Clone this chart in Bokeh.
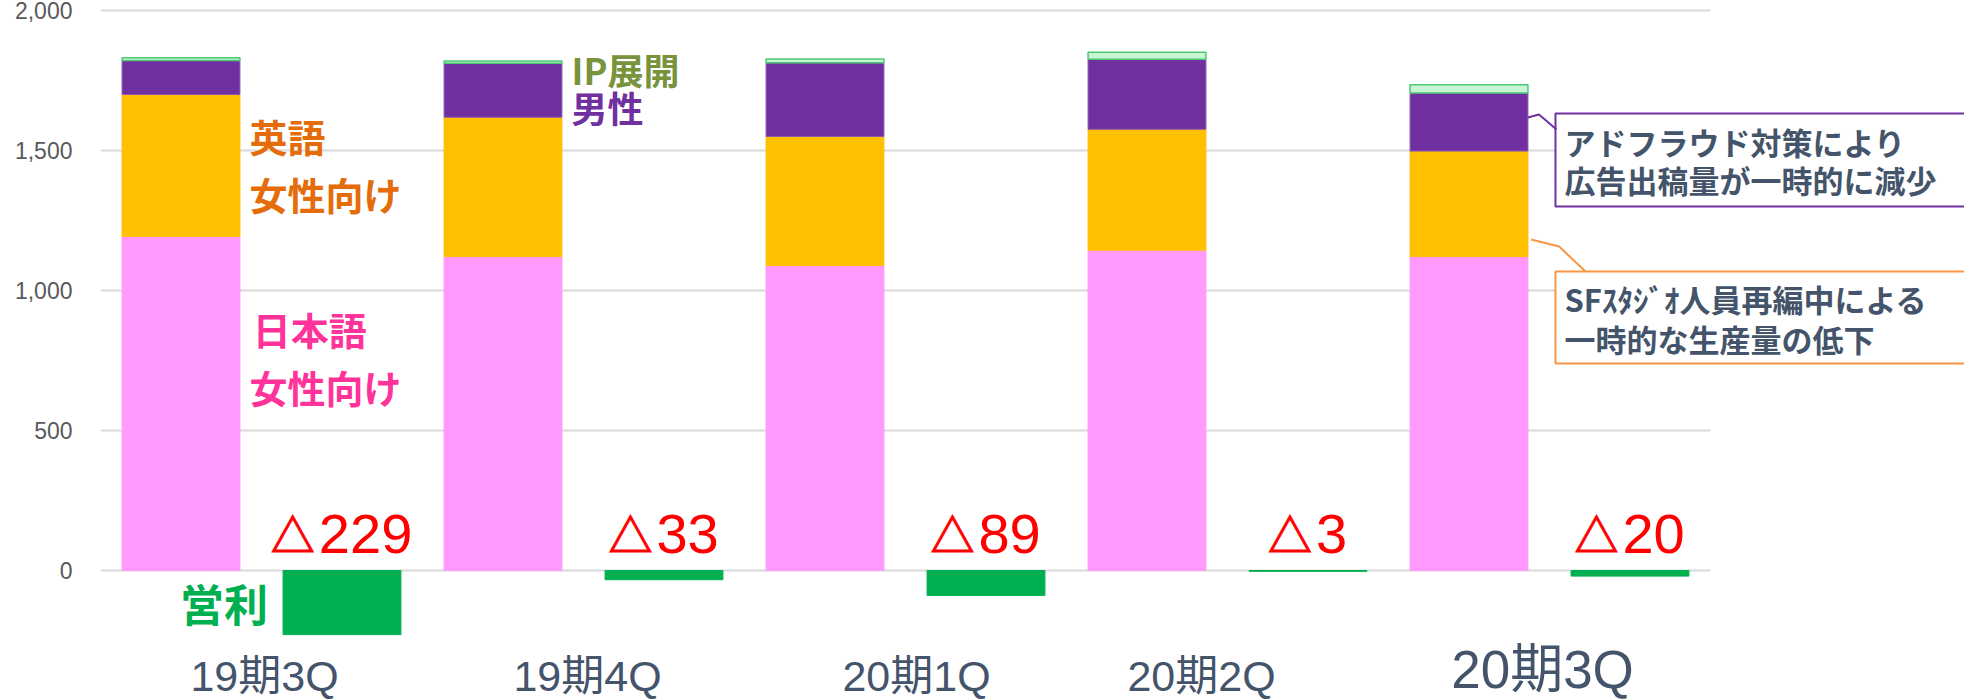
from bokeh.plotting import figure
from bokeh.models import ColumnDataSource, Range1d, FixedTicker, NumeralTickFormatter
from bokeh.core.properties import value
from bokeh.embed import file_html
from bokeh.resources import INLINE

# ---------------- data ----------------
categories = ["19期3Q", "19期4Q", "20期1Q", "20期2Q", "20期3Q"]
jp_female = [1193, 1121, 1089, 1144, 1121]   # 日本語 女性向け
en_female = [507, 498, 461, 432, 377]        # 英語 女性向け
male = [121, 193, 263, 250, 207]             # 男性
ip_dev = [10, 8, 14, 25, 30]                 # IP展開
op_profit = [-229, -33, -89, -3, -20]        # 営利
y_ticks = [0, 500, 1000, 1500, 2000]

# ---------------- layout / style ----------------
W, H = 1964, 699
LEFT = 100
UNIT_PX = 322
K = 0.28                      # px per value unit
Y_TOP = 2000 + 10 / K
Y_BOT = -(H - 570) / K
BAR_W = 0.366
OFF = 0.25

C_PINK, C_YEL, C_PUR, C_IP, C_IP_LINE, C_OP = "#FF99FF", "#FFC000", "#7030A0", "#C8F5D2", "#4CC774", "#00B050"
C_TXT = "#44546A"
CJK = value("Noto Sans CJK JP")
LAT = value("Liberation Sans, Noto Sans CJK JP")

n = len(categories)
idx = list(range(n))
X_END = -0.5 + (W - LEFT) / UNIT_PX

def px2val(py):
    return (570 - py) / K

p = figure(width=W, height=H, output_backend="svg", toolbar_location=None,
           x_range=Range1d(-0.5, X_END), y_range=Range1d(Y_BOT, Y_TOP),
           min_border_left=LEFT, min_border_right=0, min_border_top=0, min_border_bottom=0)
p.outline_line_color = None
p.xaxis.visible = False
p.xgrid.visible = False

ax = p.yaxis[0]
ax.ticker = FixedTicker(ticks=y_ticks)
ax.formatter = NumeralTickFormatter(format="0,0")
ax.axis_line_color = None
ax.major_tick_line_color = None
ax.minor_tick_line_color = None
ax.major_tick_out = 0
ax.major_tick_in = 0
ax.minor_tick_out = 0
ax.minor_tick_in = 0
ax.major_label_standoff = 28
ax.major_label_text_font = "Liberation Sans"
ax.major_label_text_font_size = "23px"
ax.major_label_text_color = "#595959"

g = p.ygrid[0]
g.grid_line_color = "#D9D9D9"
g.grid_line_width = 2
if "cross_bounds" in g.properties():
    g.cross_bounds = (-0.5, n - 0.5)
else:
    g.visible = False
    p.segment(x0=-0.5, x1=n - 0.5, y0=y_ticks, y1=y_ticks, line_color="#D9D9D9",
              line_width=2, level="underlay")

# operating-profit label pieces (triangle + digits), offsets derived from digit count
TRI, GAP, DIG = 46, 5, 31.1
digits = [str(abs(v)) for v in op_profit]
tri_txt = ["△" if v < 0 else "" for v in op_profit]
tot = [TRI + GAP + len(d) * DIG for d in digits]
tri_off = [-t / 2 + TRI / 2 for t in tot]
dig_off = [-t / 2 + TRI + GAP - 2 for t in tot]

src = ColumnDataSource(dict(
    x_sales=[i - OFF for i in idx],
    x_op=[i + OFF for i in idx],
    jp=jp_female, en=en_female, male=male, ip=ip_dev, op=op_profit,
    tri=tri_txt, dig=digits, tri_off=tri_off, dig_off=dig_off,
))

p.vbar_stack(["jp", "en", "male", "ip"], x="x_sales", width=BAR_W, source=src,
             fill_color=[C_PINK, C_YEL, C_PUR, C_IP],
             line_color=[C_PINK, C_YEL, "#8A55B5", C_IP_LINE],
             line_width=[1, 1, 1, 1.5])

p.vbar(x="x_op", top="op", bottom=0, width=BAR_W, source=src,
       fill_color=C_OP, line_color=C_OP)

# operating profit labels  (△ + value)
tri_r = p.text(x="x_op", y=px2val(532), text="tri", source=src, x_offset="tri_off",
               text_align="center", text_baseline="middle", text_color="#FF0000",
               text_font=CJK, text_font_size="44px", text_font_style="bold")
if "text_outline_color" in tri_r.glyph.properties():
    tri_r.glyph.text_outline_color = "#FF0000"
p.text(x="x_op", y=px2val(533), text="dig", source=src, x_offset="dig_off", text_align="left",
       text_baseline="middle", text_color="#FF0000", text_font=LAT,
       text_font_size="56px")

# category labels
p.text(x=idx, y=[px2val(675)] * 4 + [px2val(669)], text=categories, text_align="center",
       text_baseline="middle", x_offset=[3, 4, 11, -26, -7],
       text_font_size=["43px", "43px", "43px", "43px", "53px"],
       text_color=C_TXT, text_font=LAT)

# series labels
edge0 = 0 - OFF + BAR_W / 2 + 0.03
edge1 = 1 - OFF + BAR_W / 2 + 0.03
series_labels = [
    ("英語", edge0, px2val(135), "#E46C0A", "38px"),
    ("女性向け", edge0, px2val(193), "#E46C0A", "38px"),
    ("日本語", edge0 + 0.01, px2val(328), "#FF3399", "38px"),
    ("女性向け", edge0, px2val(386), "#FF3399", "38px"),
    ("IP展開", edge1, px2val(68), "#77933C", "36px"),
    ("男性", edge1, px2val(106), "#7030A0", "36px"),
]
for t, x, y, c, fs in series_labels:
    p.text(x=[x], y=[y], text=[t], text_align="left", text_baseline="middle",
           text_color=c, text_font=CJK, text_font_size=fs, text_font_style="bold")

p.text(x=[0 + OFF - BAR_W / 2 - 0.047], y=[px2val(602)], text=["営利"], text_align="right",
       text_baseline="middle", text_color=C_OP, text_font=CJK, text_font_size="44px",
       text_font_style="bold")

# callouts on the last quarter
last = n - 1
bx_edge = last - OFF + BAR_W / 2
box_l = last + 0.0186
box_r = X_END + 0.2
p.quad(left=[box_l], right=[box_r], top=[px2val(113)], bottom=[px2val(206)], fill_color="white",
       line_color="#7030A0", line_width=2)
p.quad(left=[box_l], right=[box_r], top=[px2val(271)], bottom=[px2val(363)], fill_color="white",
       line_color="#F79646", line_width=2)
p.line(x=[bx_edge, last - 0.0326, last + 0.0217], y=[px2val(117), px2val(114), px2val(129)],
       line_color="#7030A0", line_width=2)
p.line(x=[bx_edge + 0.01, last + 0.0298, last + 0.1118], y=[px2val(239), px2val(246), px2val(271)],
       line_color="#F79646", line_width=2)

tx = last + 0.0466
callout_lines = [
    ("アドフラウド対策により", px2val(141)),
    ("広告出稿量が一時的に減少", px2val(179)),
    ("SFｽﾀｼﾞｵ人員再編中による", px2val(298)),
    ("一時的な生産量の低下", px2val(338)),
]
for t, y in callout_lines:
    p.text(x=[tx], y=[y], text=[t], text_align="left", text_baseline="middle",
           text_color=C_TXT, text_font=CJK, text_font_size="31px", text_font_style="bold")

open("out.html", "w").write(file_html(p, INLINE))
